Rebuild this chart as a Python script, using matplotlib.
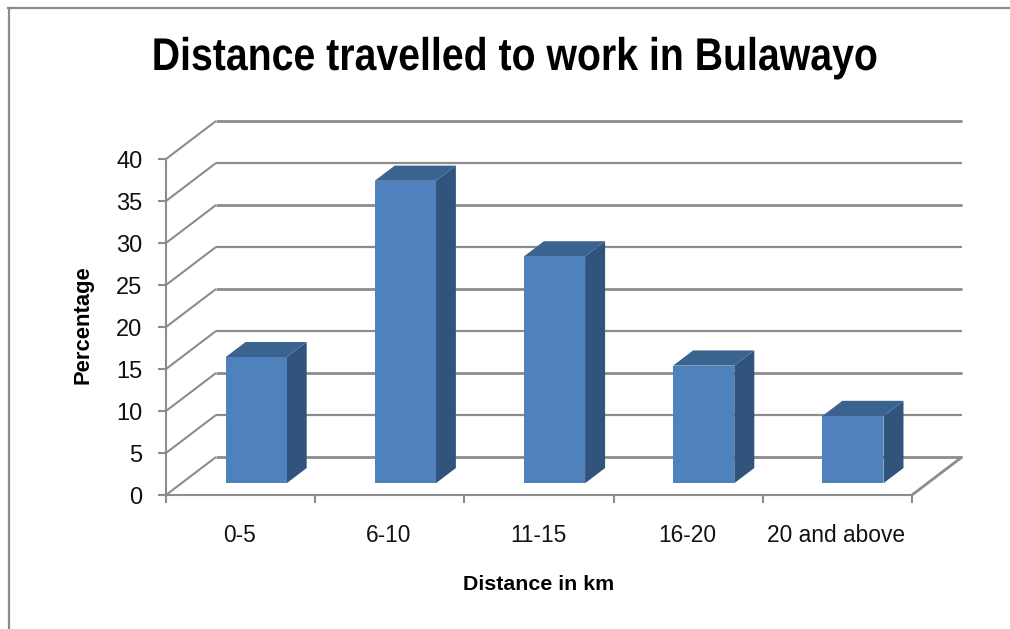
import matplotlib
matplotlib.use('Agg')
import matplotlib.pyplot as plt
from matplotlib.lines import Line2D
from matplotlib.patches import Polygon
from matplotlib.patheffects import AbstractPathEffect
from matplotlib.transforms import Affine2D

categories = ['0-5', '6-10', '11-15', '16-20', '20 and above']
values = [15, 36, 27, 14, 8]
y_ticks = [0, 5, 10, 15, 20, 25, 30, 35, 40]

title = 'Distance travelled to work in Bulawayo'
xlabel = 'Distance in km'
ylabel = 'Percentage'

GRID = '#8c8c8c'
FRONT = '#4f81bd'
SIDE = '#31547c'
TOP = '#3b6390'
FONT = 'Liberation Sans'

# oblique depth of the floor, in data units (category, percent)
DX = 50 / 149.2
DY = 38 / 8.4
BAR_W = 0.41
Z0, Z1 = 0.31, 0.71


class Squeeze(AbstractPathEffect):
    # the title font in the picture is narrower than any installed one
    def __init__(self, sx, cx):
        super().__init__()
        self.sx = sx
        self.cx = cx

    def draw_path(self, renderer, gc, tpath, affine, rgbFace=None):
        squeeze = Affine2D().translate(-self.cx, 0).scale(self.sx, 1).translate(self.cx, 0)
        renderer.draw_path(gc, tpath, affine + squeeze, rgbFace)


def proj(x, y, z):
    return x + z * DX, y + z * DY


def line3d(ax, p, q, lw=2.0, zorder=1):
    a, b = proj(*p), proj(*q)
    ax.plot([a[0], b[0]], [a[1], b[1]], color=GRID, lw=lw, zorder=zorder,
            clip_on=False, solid_capstyle='butt')


fig = plt.figure(figsize=(10.10, 6.29), dpi=100)
ax = fig.add_axes([166 / 1010, (629 - 495) / 629, 746 / 1010, 336 / 629])
ax.set_xlim(0, len(categories))
ax.set_ylim(0, 40)
ax.patch.set_visible(False)
for s in ['top', 'right']:
    ax.spines[s].set_visible(False)
for s in ['left', 'bottom']:
    ax.spines[s].set_color(GRID)
    ax.spines[s].set_linewidth(1.5)

# chart frame
fig.add_artist(Line2D([8.5 / 1010, 8.5 / 1010], [0, 1 - 8 / 629], color='#8c8c8c', lw=1.6))
fig.add_artist(Line2D([8 / 1010, 1], [1 - 8 / 629, 1 - 8 / 629], color='#8c8c8c', lw=1.6))

# walls
n = len(categories)
for v in y_ticks:
    line3d(ax, (0, v, 0), (0, v, 1), lw=1.5)
    line3d(ax, (0, v, 1), (n, v, 1), lw=2.0 if v % 10 == 0 else 1.6)
line3d(ax, (n, 0, 0), (n, 0, 1), lw=2.0)

# bars
for i, v in enumerate(values):
    x0 = i + 0.5 - BAR_W / 2
    x1 = i + 0.5 + BAR_W / 2
    front = [proj(x0, 0, Z0), proj(x1, 0, Z0), proj(x1, v, Z0), proj(x0, v, Z0)]
    side = [proj(x1, 0, Z0), proj(x1, 0, Z1), proj(x1, v, Z1), proj(x1, v, Z0)]
    top = [proj(x0, v, Z0), proj(x1, v, Z0), proj(x1, v, Z1), proj(x0, v, Z1)]
    ax.add_patch(Polygon(side, fc=SIDE, ec='none', zorder=3, clip_on=False))
    ax.add_patch(Polygon(top, fc=TOP, ec='none', zorder=3, clip_on=False))
    ax.add_patch(Polygon(front, fc=FRONT, ec='none', zorder=4, clip_on=False))

ax.set_yticks(y_ticks)
ax.set_yticklabels([str(v) for v in y_ticks], fontsize=17, family=FONT, color='#111111')
ax.set_xticks(range(n + 1))
ax.set_xticklabels([])
ax.tick_params(axis='both', color=GRID, width=1.5, length=6)
ax.tick_params(axis='y', pad=11)
for i, c in enumerate(categories):
    ax.annotate(c, (i + 0.5, 0), xytext=(-1, -41), textcoords='offset pixels', ha='center',
                va='center', fontsize=16.4, family=FONT, color='#111111', annotation_clip=False)

t = fig.text(515 / 1010, 1 - 58 / 629, title, ha='center', va='center', fontsize=33,
             fontweight='bold', family=FONT, color='black')
t.set_path_effects([Squeeze(726 / 848, 515)])
fig.text(538.5 / 1010, 1 - 585 / 629, xlabel, ha='center', va='center', fontsize=15.4,
         fontweight='bold', family=FONT, color='black')
fig.text(83 / 1010, 1 - 325 / 629, ylabel, ha='center', va='center', rotation=90, fontsize=15.8,
         fontweight='bold', family=FONT, color='black')

fig.savefig('out.png', dpi=100)
